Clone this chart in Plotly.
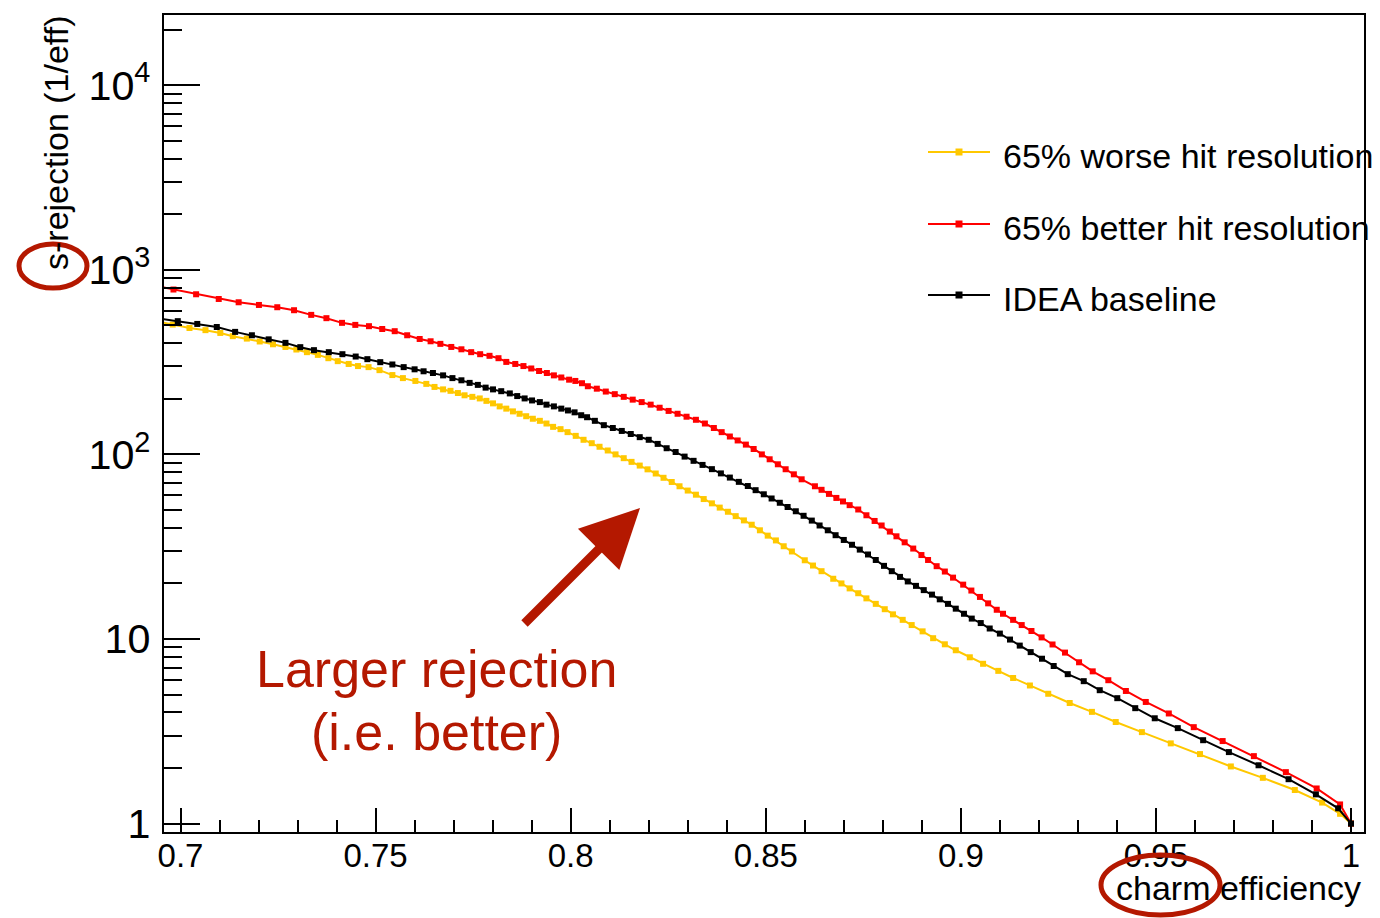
import plotly.graph_objects as go

# Charm-tagging performance: background (s) rejection versus charm efficiency
# for three vertex-detector hit-resolution scenarios.

worse_eff = [0.6946, 0.6980, 0.7023, 0.7064, 0.7102, 0.7134, 0.7170, 0.7203, 0.7237, 0.7269, 0.7297,
             0.7324, 0.7352, 0.7379, 0.7403, 0.7431, 0.7455, 0.7482, 0.7510, 0.7543, 0.7570,
             0.7602, 0.7630, 0.7651, 0.7673, 0.7692, 0.7711, 0.7728, 0.7748, 0.7767, 0.7784,
             0.7801, 0.7818, 0.7835, 0.7852, 0.7869, 0.7886, 0.7903, 0.7921, 0.7938, 0.7955,
             0.7974, 0.7992, 0.8013, 0.8033, 0.8054, 0.8074, 0.8095, 0.8115, 0.8136, 0.8156,
             0.8177, 0.8197, 0.8218, 0.8238, 0.8259, 0.8279, 0.8300, 0.8321, 0.8341, 0.8362,
             0.8382, 0.8403, 0.8423, 0.8444, 0.8464, 0.8485, 0.8505, 0.8526, 0.8546, 0.8567,
             0.8600, 0.8621, 0.8643, 0.8673, 0.8694, 0.8715, 0.8737, 0.8758, 0.8782, 0.8805,
             0.8826, 0.8851, 0.8874, 0.8902, 0.8929, 0.8959, 0.8987, 0.9023, 0.9057, 0.9096,
             0.9134, 0.9177, 0.9224, 0.9279, 0.9336, 0.9397, 0.9464, 0.9538, 0.9613, 0.9692,
             0.9774, 0.9856, 0.9926, 0.9972, 1.0000]
worse_rej = [523, 505, 484, 471, 455, 437, 424, 409, 395, 382, 370,
             358, 346, 332, 320, 309, 301, 297, 286, 269, 259,
             250, 241, 232, 225, 221, 215, 209, 205, 201, 195,
             189, 182, 177, 171, 166, 161, 156, 152, 147, 141,
             137, 132, 126, 120, 115, 110, 105, 100, 95.4, 91.1,
             87.0, 83.0, 78.8, 74.7, 70.9, 67.2, 63.7, 60.5, 57.3, 54.3,
             51.5, 48.9, 46.3, 43.9, 41.6, 38.8, 36.3, 34.2, 31.8, 29.8,
             26.7, 25.0, 23.3, 21.2, 20.0, 18.8, 17.7, 16.6, 15.5, 14.5,
             13.6, 12.7, 11.9, 11.0, 10.1, 9.36, 8.69, 7.96, 7.34, 6.72,
             6.15, 5.60, 5.05, 4.50, 4.03, 3.55, 3.13, 2.72, 2.38, 2.04,
             1.77, 1.52, 1.30, 1.13, 1.00]

better_eff = [0.6946, 0.6982, 0.7040, 0.7098, 0.7149, 0.7201, 0.7248, 0.7291, 0.7335, 0.7374, 0.7414,
              0.7448, 0.7483, 0.7517, 0.7549, 0.7581, 0.7613, 0.7641, 0.7666, 0.7694, 0.7720,
              0.7745, 0.7768, 0.7792, 0.7815, 0.7835, 0.7858, 0.7879, 0.7899, 0.7919, 0.7939,
              0.7957, 0.7976, 0.7996, 0.8012, 0.8029, 0.8044, 0.8067, 0.8090, 0.8113, 0.8136,
              0.8159, 0.8182, 0.8205, 0.8228, 0.8251, 0.8274, 0.8297, 0.8321, 0.8344, 0.8367,
              0.8387, 0.8408, 0.8428, 0.8449, 0.8469, 0.8490, 0.8510, 0.8531, 0.8551, 0.8572,
              0.8592, 0.8626, 0.8643, 0.8662, 0.8681, 0.8698, 0.8715, 0.8737, 0.8758, 0.8779,
              0.8797, 0.8818, 0.8835, 0.8856, 0.8878, 0.8899, 0.8916, 0.8938, 0.8959, 0.8980,
              0.9006, 0.9027, 0.9049, 0.9070, 0.9092, 0.9108, 0.9134, 0.9156, 0.9181, 0.9207,
              0.9235, 0.9267, 0.9303, 0.9338, 0.9378, 0.9423, 0.9474, 0.9533, 0.9597, 0.9671,
              0.9751, 0.9833, 0.9912, 0.9972, 1.0000]
better_rej = [810, 782, 737, 695, 667, 645, 627, 604, 570, 547, 516,
              503, 495, 478, 465, 442, 422, 410, 397, 382, 371,
              358, 349, 342, 332, 317, 309, 301, 292, 283, 276,
              268, 261, 254, 250, 243, 234, 227, 219, 212, 205,
              198, 192, 186, 179, 172, 166, 160, 154, 147, 139,
              132, 125, 119, 113, 107, 100, 94.1, 88.4, 83.1, 78.0,
              73.3, 67.2, 64.3, 61.1, 58.1, 55.6, 53.1, 50.3, 46.8, 43.6,
              41.2, 38.2, 36.0, 33.4, 30.9, 28.5, 26.8, 24.8, 23.2, 21.5,
              19.7, 18.3, 16.9, 15.6, 14.4, 13.7, 12.7, 11.9, 11.05, 10.2,
              9.34, 8.44, 7.48, 6.68, 5.98, 5.23, 4.56, 3.95, 3.33, 2.80,
              2.32, 1.90, 1.55, 1.27, 1.00]

idea_eff = [0.6946, 0.6993, 0.7043, 0.7093, 0.7140, 0.7183, 0.7226, 0.7269, 0.7307, 0.7342, 0.7380,
            0.7415, 0.7449, 0.7479, 0.7512, 0.7543, 0.7572, 0.7600, 0.7623, 0.7647, 0.7673,
            0.7697, 0.7720, 0.7741, 0.7762, 0.7782, 0.7801, 0.7822, 0.7844, 0.7863, 0.7882,
            0.7901, 0.7921, 0.7938, 0.7957, 0.7976, 0.7993, 0.8010, 0.8027, 0.8042, 0.8062,
            0.8085, 0.8108, 0.8131, 0.8154, 0.8177, 0.8200, 0.8223, 0.8246, 0.8269, 0.8292,
            0.8315, 0.8338, 0.8362, 0.8385, 0.8408, 0.8431, 0.8454, 0.8474, 0.8495, 0.8515,
            0.8536, 0.8556, 0.8577, 0.8597, 0.8618, 0.8638, 0.8659, 0.8679, 0.8700, 0.8721,
            0.8741, 0.8762, 0.8782, 0.8803, 0.8823, 0.8844, 0.8864, 0.8885, 0.8905, 0.8926,
            0.8946, 0.8967, 0.8987, 0.9008, 0.9028, 0.9051, 0.9074, 0.9100, 0.9126, 0.9151,
            0.9179, 0.9208, 0.9238, 0.9274, 0.9315, 0.9356, 0.9401, 0.9447, 0.9497, 0.9556,
            0.9621, 0.9687, 0.9763, 0.9840, 0.9910, 0.9967, 1.0000]
idea_rej = [544, 527, 509, 490, 461, 442, 420, 402, 381, 367, 358,
            349, 339, 328, 316, 307, 297, 289, 282, 276, 268,
            259, 252, 244, 238, 230, 225, 220, 214, 207, 201,
            196, 192, 186, 182, 177, 173, 169, 163, 159, 152,
            144, 139, 134, 129, 124, 120, 114, 108, 103, 97.3,
            92.3, 87.7, 83.2, 78.9, 74.9, 71.0, 67.4, 64.0, 60.8, 57.7,
            54.7, 51.9, 49.2, 46.5, 43.8, 41.2, 38.8, 36.5, 34.4, 32.4,
            30.5, 28.7, 26.8, 24.9, 23.3, 21.7, 20.5, 19.4, 18.4, 17.4,
            16.4, 15.5, 14.6, 13.7, 12.9, 12.2, 11.4, 10.7, 9.93, 9.21,
            8.49, 7.82, 7.14, 6.45, 5.91, 5.28, 4.78, 4.22, 3.72, 3.29,
            2.83, 2.44, 2.07, 1.74, 1.44, 1.21, 1.00]

series_names = ["65% worse hit resolution", "65% better hit resolution", "IDEA baseline"]
series_colors = ["#FFC800", "#FF0000", "#000000"]
series_eff = [worse_eff, better_eff, idea_eff]
series_rej = [worse_rej, better_rej, idea_rej]

x_tick_vals = [0.7, 0.75, 0.8, 0.85, 0.9, 0.95, 1.0]
x_tick_text = ["0.7", "0.75", "0.8", "0.85", "0.9", "0.95", "1"]

FONT = "Liberation Sans, Arial, Helvetica, sans-serif"
INK = "#B41800"  # colour of the hand-drawn highlights

W, H = 1380, 918
ML, MR, MT, MB = 164, 16, 15, 86
PW, PH = W - ML - MR, H - MT - MB


def px_x(px):
    """Pixel column -> paper x."""
    return (px - ML) / PW


def px_y(py):
    """Pixel row -> paper y."""
    return (H - MB - py) / PH


fig = go.Figure()
for name, color, xs, ys in zip(series_names, series_colors, series_eff, series_rej):
    fig.add_trace(go.Scatter(
        x=xs, y=ys, name=name, mode="lines+markers",
        line=dict(color=color, width=2),
        marker=dict(symbol="square", size=6, color=color, line=dict(width=0)),
        showlegend=False,
    ))

shapes = []
annotations = []

# legend drawn in the ROOT style: line sample with a marker, then the label
legend_rows = [152, 224, 295]
for name, color, row in zip(series_names, series_colors, legend_rows):
    shapes.append(dict(type="line", xref="paper", yref="paper",
                       x0=px_x(928), x1=px_x(990), y0=px_y(row), y1=px_y(row),
                       line=dict(color=color, width=2)))
    shapes.append(dict(type="rect", xref="paper", yref="paper",
                       x0=px_x(955.5), x1=px_x(962.5), y0=px_y(row + 3.5), y1=px_y(row - 3.5),
                       fillcolor=color, line=dict(width=0)))
    annotations.append(dict(text=name, xref="paper", yref="paper",
                            x=px_x(1001), y=px_y(row + 4), xanchor="left", yanchor="middle",
                            showarrow=False, font=dict(family=FONT, size=34, color="black")))

# axis titles (ROOT aligns them with the end of the axis)
annotations.append(dict(text="charm efficiency", xref="paper", yref="paper",
                        x=px_x(1363), y=px_y(888), xanchor="right", yanchor="middle",
                        showarrow=False, font=dict(family=FONT, size=34, color="black")))
annotations.append(dict(text="s-rejection (1/eff)", xref="paper", yref="paper", textangle=-90,
                        x=px_x(56), y=px_y(14), xanchor="center", yanchor="top",
                        showarrow=False, font=dict(family=FONT, size=34, color="black")))

# highlight text and arrow
annotations.append(dict(text="Larger rejection", xref="paper", yref="paper",
                        x=px_x(436), y=px_y(669), xanchor="center", yanchor="middle",
                        showarrow=False, font=dict(family=FONT, size=52, color=INK)))
annotations.append(dict(text="(i.e. better)", xref="paper", yref="paper",
                        x=px_x(436), y=px_y(732), xanchor="center", yanchor="middle",
                        showarrow=False, font=dict(family=FONT, size=52, color=INK)))
annotations.append(dict(text="", xref="paper", yref="paper",
                        x=px_x(640), y=px_y(508), ax=-117, ay=117,
                        showarrow=True, arrowhead=2, arrowsize=1.3, arrowwidth=9,
                        arrowcolor=INK))

# circles around the particle names in the axis titles
shapes.append(dict(type="circle", xref="paper", yref="paper",
                   x0=px_x(19), x1=px_x(87), y0=px_y(288), y1=px_y(244),
                   line=dict(color=INK, width=5)))
shapes.append(dict(type="circle", xref="paper", yref="paper",
                   x0=px_x(1101), x1=px_x(1220), y0=px_y(915), y1=px_y(855),
                   line=dict(color=INK, width=5)))

fig.update_layout(
    width=W, height=H,
    margin=dict(l=ML, r=MR, t=MT, b=MB, pad=0),
    paper_bgcolor="white", plot_bgcolor="white",
    font=dict(family=FONT, size=33, color="black"),
    shapes=shapes, annotations=annotations,
    showlegend=False,
)

fig.update_xaxes(
    range=[0.69577, 1.00333],
    tickmode="array", tickvals=x_tick_vals, ticktext=x_tick_text,
    ticks="inside", ticklen=24, tickwidth=2, tickcolor="black",
    minor=dict(tickmode="linear", tick0=0.7, dtick=0.01, ticks="inside",
               ticklen=12, tickwidth=2, tickcolor="black", showgrid=False),
    showline=True, linewidth=2, linecolor="black", mirror=True,
    showgrid=False, zeroline=False,
    tickfont=dict(family=FONT, size=33, color="black"),
    ticklabelstandoff=-7,
)

fig.update_yaxes(
    type="log", range=[-0.0455, 4.3803],
    tickmode="linear", tick0=0, dtick=1, exponentformat="power",
    ticks="inside", ticklen=36, tickwidth=2, tickcolor="black",
    minor=dict(dtick="D1", ticks="inside", ticklen=18, tickwidth=2,
               tickcolor="black", showgrid=False),
    showline=True, linewidth=2, linecolor="black", mirror=True,
    showgrid=False, zeroline=False,
    tickfont=dict(family=FONT, size=33, color="black"),
    ticklabelstandoff=5,
)

fig.write_html("out.html")
